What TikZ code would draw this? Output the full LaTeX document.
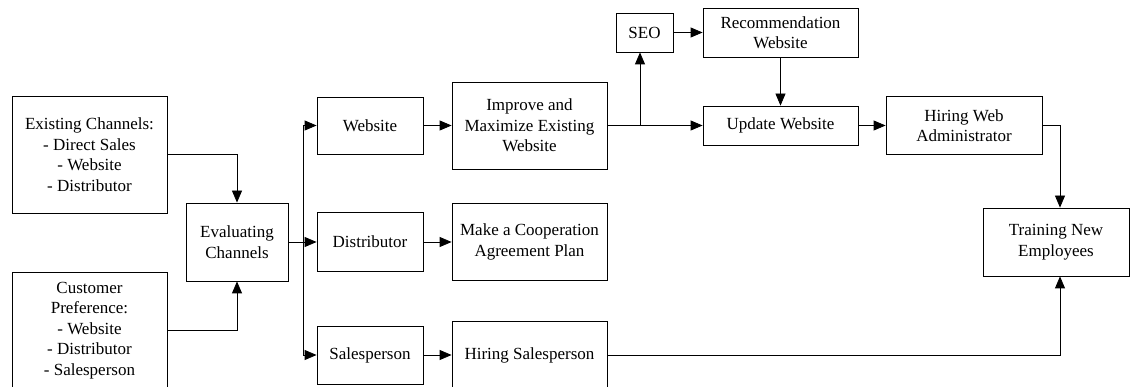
\documentclass[tikz,border=0pt]{standalone}
\usepackage{fontspec}
\setmainfont{Liberation Serif}
\usetikzlibrary{arrows.meta}
\begin{document}
\begin{tikzpicture}[x=1pt,y=-1pt,
  box/.style={draw, line width=0.8pt, inner sep=0pt, align=center,
    font=\fontsize{17}{20.5}\selectfont},
  flow/.style={-{Triangle[length=12pt,width=10pt]}, line width=0.8pt},
  link/.style={line width=0.8pt}]
\useasboundingbox (0,0) rectangle (1130,387);

% inputs
\node[box, minimum width=155pt, minimum height=117pt] (ex) at (89.5,154.5)
  {Existing Channels:\\- Direct Sales\\- Website\\- Distributor};
\node[box, minimum width=155pt, minimum height=117pt] (cp) at (89.5,330.5)
  {Customer\\Preference:\\- Website\\- Distributor\\- Salesperson};
\node[box, minimum width=102pt, minimum height=78pt] (ev) at (237,242)
  {Evaluating\\Channels};

% channels
\node[box, minimum width=106pt, minimum height=57pt] (web) at (370,125.5) {Website};
\node[box, minimum width=106pt, minimum height=59pt] (dis) at (370,242) {Distributor};
\node[box, minimum width=106pt, minimum height=58pt] (sal) at (370,355) {Salesperson};

% actions
\node[box, minimum width=155pt, minimum height=87pt] (imp) at (529.5,125.5)
  {Improve and\\Maximize Existing\\Website};
\node[box, minimum width=155pt, minimum height=77pt] (coop) at (529.5,242)
  {Make a Cooperation\\Agreement Plan};
\node[box, minimum width=155pt, minimum height=68pt] (hsal) at (529.5,355)
  {Hiring Salesperson};

% website track
\node[box, minimum width=57pt, minimum height=39pt] (seo) at (644.5,32.5) {SEO};
\node[box, minimum width=155pt, minimum height=49pt] (rec) at (780.5,32.5)
  {Recommendation\\Website};
\node[box, minimum width=155pt, minimum height=39pt] (upd) at (780.5,125.5)
  {Update Website};
\node[box, minimum width=156pt, minimum height=58pt] (hwa) at (964,125.5)
  {Hiring Web\\Administrator};
\node[box, minimum width=146pt, minimum height=68pt] (trn) at (1056,242)
  {Training New\\Employees};

% routing points
\coordinate (bus) at (303,242);
\coordinate (j) at (640,125.5);
\coordinate (k) at (1060,242);

% connectors
\draw[flow] (ex.east) -| (ev.north);
\draw[flow] (cp.east) -| (ev.south);
\draw[flow] (ev.east) -- (dis.west);
\draw[flow] (bus) |- (web.west);
\draw[flow] (bus) |- (sal.west);
\draw[flow] (web) -- (imp);
\draw[flow] (dis) -- (coop);
\draw[flow] (sal) -- (hsal);
\draw[flow] (imp.east) -- (upd.west);
\draw[flow] (j) -- (j |- seo.south);
\draw[flow] (seo) -- (rec);
\draw[flow] (rec) -- (upd);
\draw[flow] (upd) -- (hwa);
\draw[flow] (hwa.east) -| (k |- trn.north);
\draw[flow] (hsal.east) -| (k |- trn.south);
\end{tikzpicture}
\end{document}
